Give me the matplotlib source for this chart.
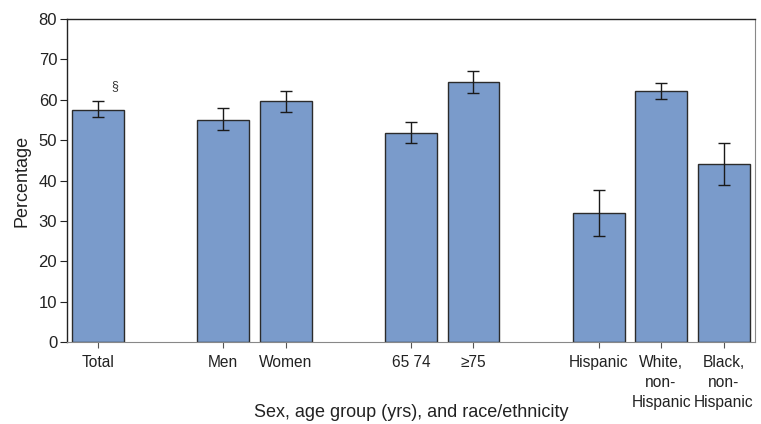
import matplotlib
matplotlib.use("Agg")
import matplotlib.pyplot as plt
import numpy as np

plt.rcParams['font.family'] = ['Liberation Sans', 'DejaVu Sans']

categories = ["Total", "Men", "Women", "65 74", "\u226575", "Hispanic",
              "White,\nnon-\nHispanic", "Black,\nnon-\nHispanic"]
positions = [0, 2, 3, 5, 6, 8, 9, 10]
values = [57.6, 55.1, 59.6, 51.7, 64.4, 32.0, 62.1, 44.0]
ci_low = [55.8, 52.5, 57.0, 49.2, 61.6, 26.2, 60.1, 38.9]
ci_high = [59.8, 57.9, 62.3, 54.4, 67.2, 37.6, 64.2, 49.2]

fig = plt.figure(figsize=(7.61, 4.24), dpi=100)
ax = fig.add_axes([0.088, 0.193, 0.904, 0.762])

vals = np.array(values)
yerr = np.array([vals - np.array(ci_low), np.array(ci_high) - vals])
ax.bar(positions, values, width=0.83, color="#7A9BCB", edgecolor="#2b2b2b",
       linewidth=1.0, zorder=2)
ax.errorbar(positions, values, yerr=yerr, fmt="none", ecolor="#1a1a1a",
            elinewidth=1.0, capsize=4, capthick=1.0, zorder=3)

ax.text(0.27, 63.5, "\u00a7", ha="center", va="center", fontsize=9, color="#333333")

ax.set_xlim(-0.5, 10.5)
ax.set_ylim(0, 80)
ax.set_yticks(range(0, 81, 10))
ax.set_xticks(positions)
ax.set_xticklabels(categories, fontsize=11.2, color="#222222", va="top", linespacing=1.45)
ax.tick_params(axis="y", labelsize=12, colors="#222222", direction="out", length=5, width=0.8, pad=2)
ax.tick_params(axis="x", direction="out", length=4, width=0.8, colors="#555555",
               labelcolor="#222222", pad=5)
ax.set_ylabel("Percentage", fontsize=13, color="#222222", labelpad=6)
ax.set_xlabel("Sex, age group (yrs), and race/ethnicity", fontsize=13, color="#222222")
ax.xaxis.set_label_coords(0.5, -0.19)

for s in ["left", "top"]:
    ax.spines[s].set_color("#222222")
    ax.spines[s].set_linewidth(1.0)
ax.spines["right"].set_color("#888888")
ax.spines["bottom"].set_color("#888888")

fig.savefig("out.png", dpi=100)
